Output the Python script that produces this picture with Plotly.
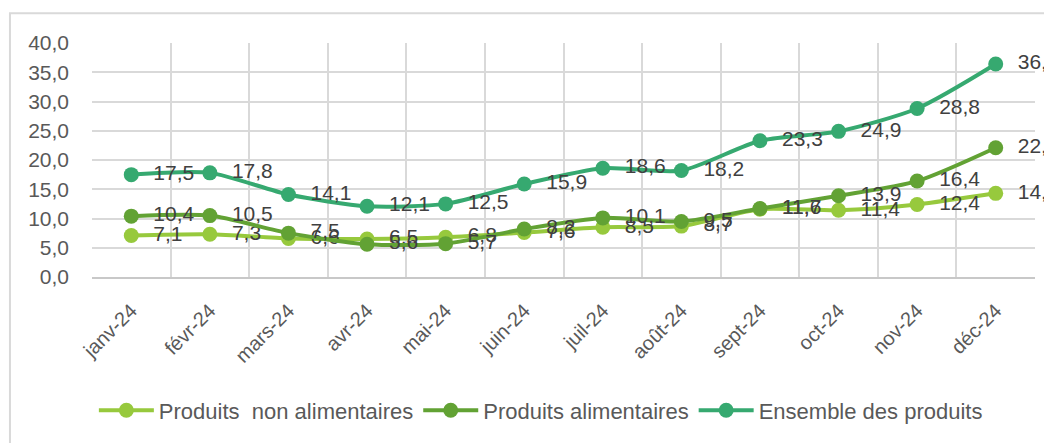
import plotly.graph_objs as go

months = ["janv-24", "févr-24", "mars-24", "avr-24", "mai-24", "juin-24",
          "juil-24", "août-24", "sept-24", "oct-24", "nov-24", "déc-24"]

non_alim = [7.1, 7.3, 6.6, 6.5, 6.8, 7.6, 8.5, 8.7, 11.6, 11.4, 12.4, 14.3]
alim = [10.4, 10.5, 7.5, 5.6, 5.7, 8.2, 10.1, 9.5, 11.7, 13.9, 16.4, 22.1]
ensemble = [17.5, 17.8, 14.1, 12.1, 12.5, 15.9, 18.6, 18.2, 23.3, 24.9, 28.8, 36.4]

FONT = "Liberation Sans"

# Etiquettes: virgule décimale + petit décalage à droite du point
def fmt(vals):
    return ["\u00a0\u00a0" + f"{v:.1f}".replace(".", ",") for v in vals]

fig = go.Figure()

for vals, name, col in [
    (non_alim, "Produits  non alimentaires", "#97C93D"),
    (alim,     "Produits alimentaires",      "#62A234"),
    (ensemble, "Ensemble des produits",      "#36A970"),
]:
    fig.add_trace(go.Scatter(
        x=months, y=vals, name=name,
        mode="lines+markers+text",
        line=dict(color=col, width=4, shape="spline", smoothing=0.7),
        marker=dict(color=col, size=15),
        text=fmt(vals), textposition="middle right",
        textfont=dict(family=FONT, size=21, color="#404040"),
        cliponaxis=False,
    ))

# la page ajoute 8px de marge autour de la figure
W, H = 1044, 435
fig.update_layout(
    width=W, height=H,
    margin=dict(l=84, r=17, t=35, b=164),
    paper_bgcolor="white", plot_bgcolor="white",
    font=dict(family=FONT, color="#595959"),
    separators=", ",
    legend=dict(orientation="h", x=0.476, xanchor="center", y=-0.57, yanchor="middle",
                font=dict(family=FONT, size=22, color="#595959"),
                itemwidth=55, tracegroupgap=0),
    xaxis=dict(type="category", tickson="boundaries", range=[-0.5, 11.5],
               showgrid=True, gridcolor="#d9d9d9", gridwidth=2,
               showline=True, linecolor="#c8c8c8", linewidth=2,
               tickangle=-45, tickfont=dict(family=FONT, size=20, color="#595959"),
               ticks="", ticklabelstandoff=12),
    yaxis=dict(range=[0, 40], dtick=5, tickformat=".1f",
               showgrid=True, gridcolor="#d9d9d9", gridwidth=2,
               zeroline=False, showline=False,
               tickfont=dict(family=FONT, size=21, color="#595959"),
               ticklabelstandoff=22),
    shapes=[dict(type="rect", xref="paper", yref="paper",
                 x0=-0.087, x1=1.1, y0=-1.2, y1=1.127,
                 line=dict(color="#d9d9d9", width=2), layer="below")],
)

fig.write_html("out.html")
